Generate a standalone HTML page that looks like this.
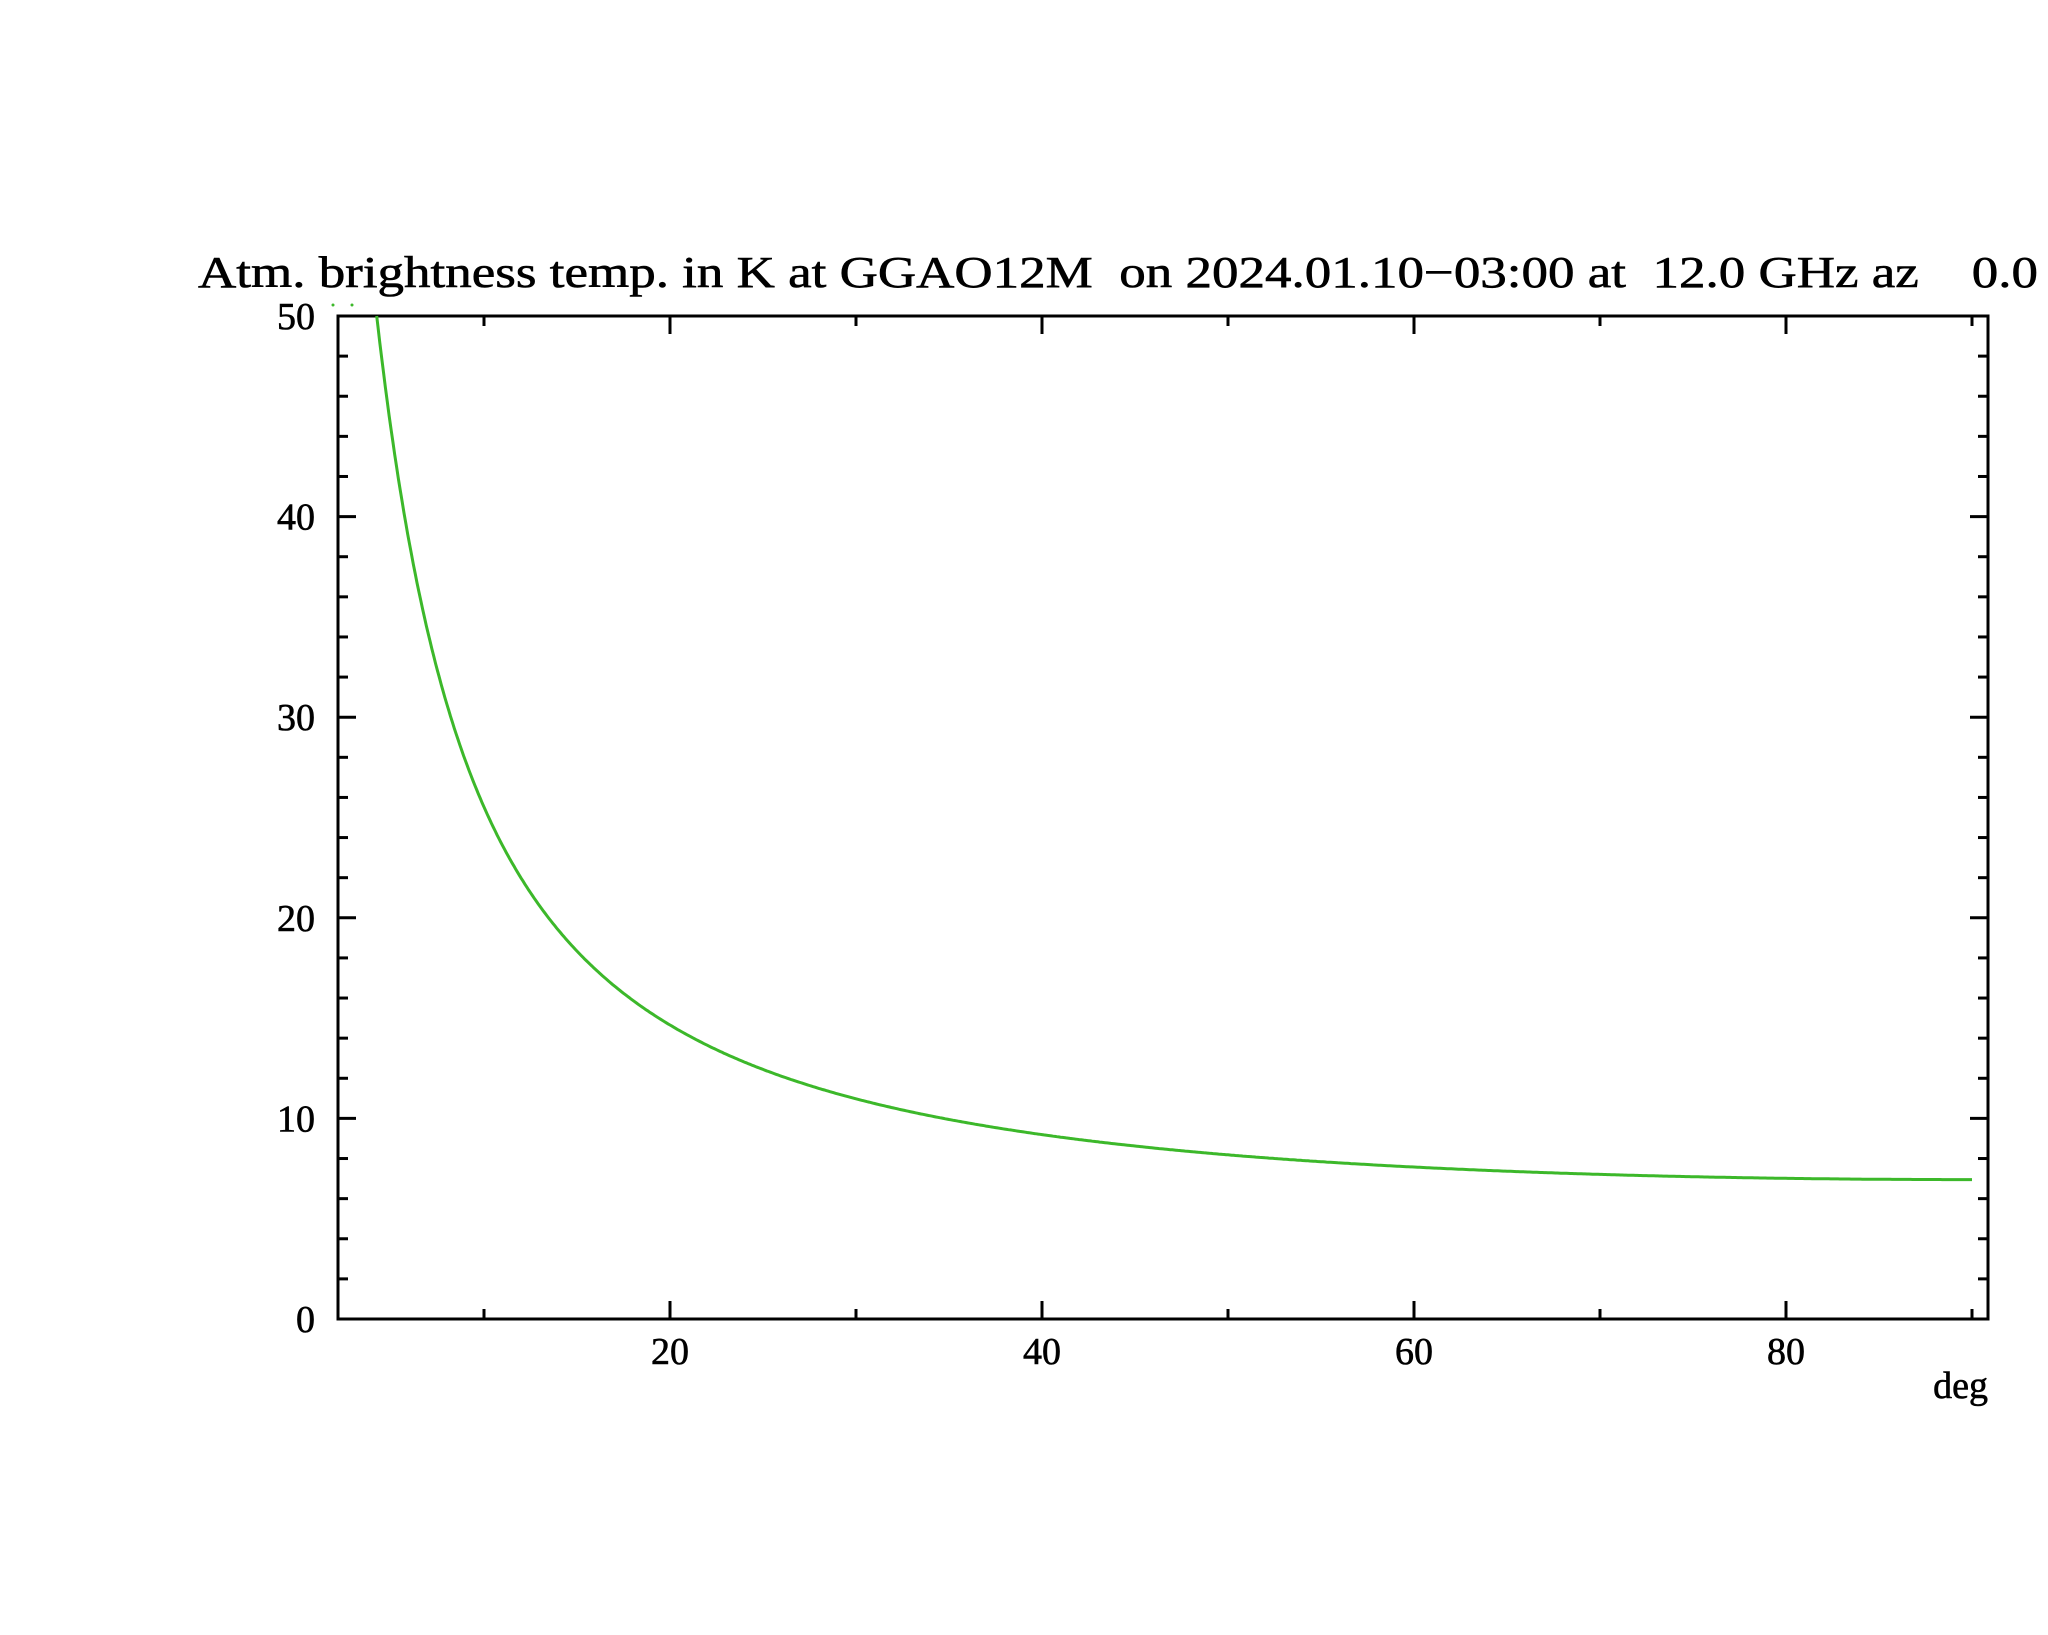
<!DOCTYPE html>
<html><head><meta charset="utf-8"><style>
html,body{margin:0;padding:0;background:#fff;}
svg{display:block;}
text{font-family:"Liberation Serif","DejaVu Serif",serif;fill:#000;stroke:#000;stroke-width:0.6;white-space:pre;}
</style></head><body>
<svg id="s" width="2048" height="1635" viewBox="0 0 2048 1635" xmlns="http://www.w3.org/2000/svg" xml:space="preserve">
<rect width="2048" height="1635" fill="#fff"/>
<text x="198" y="287" font-size="44" textLength="1840" lengthAdjust="spacingAndGlyphs" xml:space="preserve">Atm. brightness temp. in K at GGAO12M  on 2024.01.10−03:00 at  12.0 GHz az    0.0</text>
<g id="ticks" stroke="#000" stroke-width="3" fill="none"></g>
<rect x="338" y="316" width="1650" height="1003" fill="none" stroke="#000" stroke-width="3"/>
<g id="labels" font-size="38"></g>
<text x="1988" y="1398" font-size="38" text-anchor="end">deg</text>
<circle cx="333" cy="305" r="1.5" fill="#3cb82a"/>
<circle cx="352" cy="305" r="1.5" fill="#3cb82a"/>
<path id="curve" fill="none" stroke="#3cb82a" stroke-width="3"/>
</svg>
<script>
var X=function(d){return 298+d*18.6;}, Y=function(v){return 1319-v*20.06;};
var t=document.getElementById('ticks'), l=document.getElementById('labels'), ns="http://www.w3.org/2000/svg";
function ln(x1,y1,x2,y2){var e=document.createElementNS(ns,'line');e.setAttribute('x1',x1);e.setAttribute('y1',y1);e.setAttribute('x2',x2);e.setAttribute('y2',y2);t.appendChild(e);}
function tx(x,y,s,a){var e=document.createElementNS(ns,'text');e.setAttribute('x',x);e.setAttribute('y',y);e.setAttribute('text-anchor',a);e.textContent=s;l.appendChild(e);}
for(var d=10;d<=90;d+=10){var x=X(d),L=(d%20==0)?18:10;ln(x,1319,x,1319-L);ln(x,316,x,316+L);if(d%20==0)tx(x,1364,String(d),'middle');}
for(var v=0;v<=50;v+=2){var y=Y(v),L=(v%10==0)?18:10;ln(338,y,338+L,y);ln(1988,y,1988-L,y);if(v%10==0)tx(315,y+13,String(v),'end');}
function f(d){var s=Math.sin(d*Math.PI/180);return 2.9+4.054/Math.sqrt(s*s+0.00196);}
var lo=3,hi=6;for(var i=0;i<40;i++){var m=(lo+hi)/2;if(f(m)>50)lo=m;else hi=m;}
var p='M'+X(hi).toFixed(1)+','+Y(50).toFixed(1);
for(var d=Math.ceil(hi*10)/10;d<=90.01;d+=0.1){p+='L'+X(d).toFixed(1)+','+Y(f(d)).toFixed(1);}
document.getElementById('curve').setAttribute('d',p);
</script>
</body></html>
